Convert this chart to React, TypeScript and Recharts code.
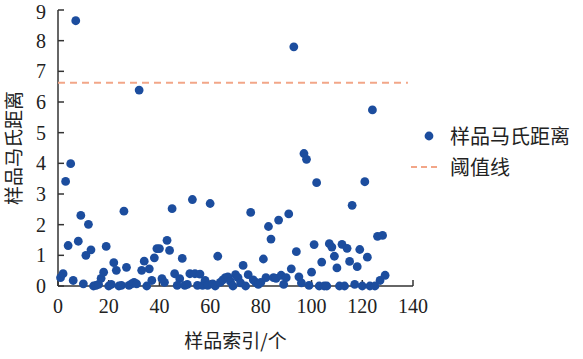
import React from 'react';
import { ScatterChart, Scatter, XAxis, YAxis, Label } from 'recharts';

// Mahalanobis distance of each sample, indices 1..129
const distances = [
  0.27, 0.4, 3.41, 1.32, 3.99, 0.18, 8.65, 1.46, 2.3, 0.07,
  1.0, 2.01, 1.18, 0.0, 0.02, 0.05, 0.25, 0.45, 1.29, 0.0,
  0.05, 0.76, 0.51, 0.0, 0.02, 2.44, 0.61, 0.02, 0.07, 0.12,
  0.07, 6.39, 0.51, 0.81, 0.0, 0.56, 0.18, 0.92, 1.22, 1.22,
  0.24, 0.12, 1.49, 1.16, 2.52, 0.4, 0.02, 0.24, 0.9, 0.02,
  0.05, 0.4, 2.82, 0.4, 0.02, 0.39, 0.02, 0.18, 0.02, 2.69,
  0.07, 0.0, 0.97, 0.12, 0.2, 0.27, 0.3, 0.15, 0.0, 0.37,
  0.27, 0.1, 0.67, 0.0, 0.37, 2.4, 0.2, 0.12, 0.05, 0.12,
  0.88, 0.27, 1.94, 1.53, 0.27, 0.25, 2.15, 0.35, 0.05, 0.27,
  2.35, 0.56, 7.8, 1.12, 0.3, 0.1, 4.32, 4.13, 0.02, 0.45,
  1.35, 3.37, 0.0, 0.78, 0.0, 0.0, 1.38, 1.27, 0.97, 0.59,
  0.0, 1.36, 0.0, 1.23, 0.8, 2.63, 0.05, 0.63, 1.19, 0.0,
  3.4, 0.94, 0.0, 5.74, 0.0, 1.62, 0.18, 1.65, 0.35,
];
const threshold = 6.63;
const thresholdSpan = [0, 138];
const xTicks = [0, 20, 40, 60, 80, 100, 120, 140];
const yTicks = [0, 1, 2, 3, 4, 5, 6, 7, 8, 9];
const seriesName = '样品马氏距离';
const thresholdName = '阈值线';
const xLabel = '样品索引/个';
const yLabel = '样品马氏距离';

const BLUE = '#1c4d9e';
const ORANGE = '#f2a688';
const AXIS = '#333';
const CJK = '"Noto Sans CJK SC", sans-serif';
const SERIF = '"Liberation Serif", "Times New Roman", serif';

const points = distances.map((d, i) => ({ x: i + 1, y: d }));
const thresholdData = thresholdSpan.map((x) => ({ x, y: threshold }));

const Dot = (props: any) => <circle cx={props.cx} cy={props.cy} r={4.4} fill={BLUE} />;
const NoDot = () => <g />;

export default function App() {
  return (
    <div style={{ position: 'absolute', left: 0, top: 0, width: 583, height: 359, background: '#fff' }}>
      <ScatterChart width={583} height={359} margin={{ top: 10, right: 170, bottom: 0, left: 0 }}>
        <XAxis
          type="number"
          dataKey="x"
          domain={[0, 140]}
          ticks={xTicks}
          height={73}
          tickSize={-6}
          tickMargin={19}
          axisLine={{ stroke: AXIS, strokeWidth: 1.5 }}
          tickLine={{ stroke: AXIS, strokeWidth: 1.5 }}
          tick={{ fill: '#222', fontSize: 20, fontFamily: SERIF }}
        >
          <Label
            value={xLabel}
            position="insideBottom"
            offset={11}
            style={{ fill: '#222', fontSize: 19, fontFamily: CJK }}
          />
        </XAxis>
        <YAxis
          type="number"
          dataKey="y"
          domain={[0, 9]}
          ticks={yTicks}
          width={58}
          tickSize={-6}
          tickMargin={18}
          axisLine={{ stroke: AXIS, strokeWidth: 1.5 }}
          tickLine={{ stroke: AXIS, strokeWidth: 1.5 }}
          tick={{ fill: '#222', fontSize: 20, fontFamily: SERIF }}
        >
          <Label
            value={yLabel}
            angle={-90}
            position="insideLeft"
            offset={14}
            style={{ fill: '#222', fontSize: 19, fontFamily: CJK, textAnchor: 'middle' }}
          />
        </YAxis>
        <Scatter
          name={thresholdName}
          data={thresholdData}
          line={{ stroke: ORANGE, strokeWidth: 2, strokeDasharray: '7 5' }}
          shape={NoDot}
          isAnimationActive={false}
        />
        <Scatter name={seriesName} data={points} shape={Dot} isAnimationActive={false} />
      </ScatterChart>
      <div style={{ position: 'absolute', left: 408, top: 120, fontFamily: CJK, fontSize: 20, color: '#222' }}>
        <div style={{ display: 'flex', alignItems: 'center', height: 31 }}>
          <svg width={36} height={12}>
            <circle cx={21} cy={6} r={4.4} fill={BLUE} />
          </svg>
          <span style={{ marginLeft: 6 }}>{seriesName}</span>
        </div>
        <div style={{ display: 'flex', alignItems: 'center', height: 31 }}>
          <svg width={36} height={12}>
            <line x1={3} y1={6} x2={33} y2={6} stroke={ORANGE} strokeWidth={2} strokeDasharray="6 4" />
          </svg>
          <span style={{ marginLeft: 6 }}>{thresholdName}</span>
        </div>
      </div>
    </div>
  );
}
